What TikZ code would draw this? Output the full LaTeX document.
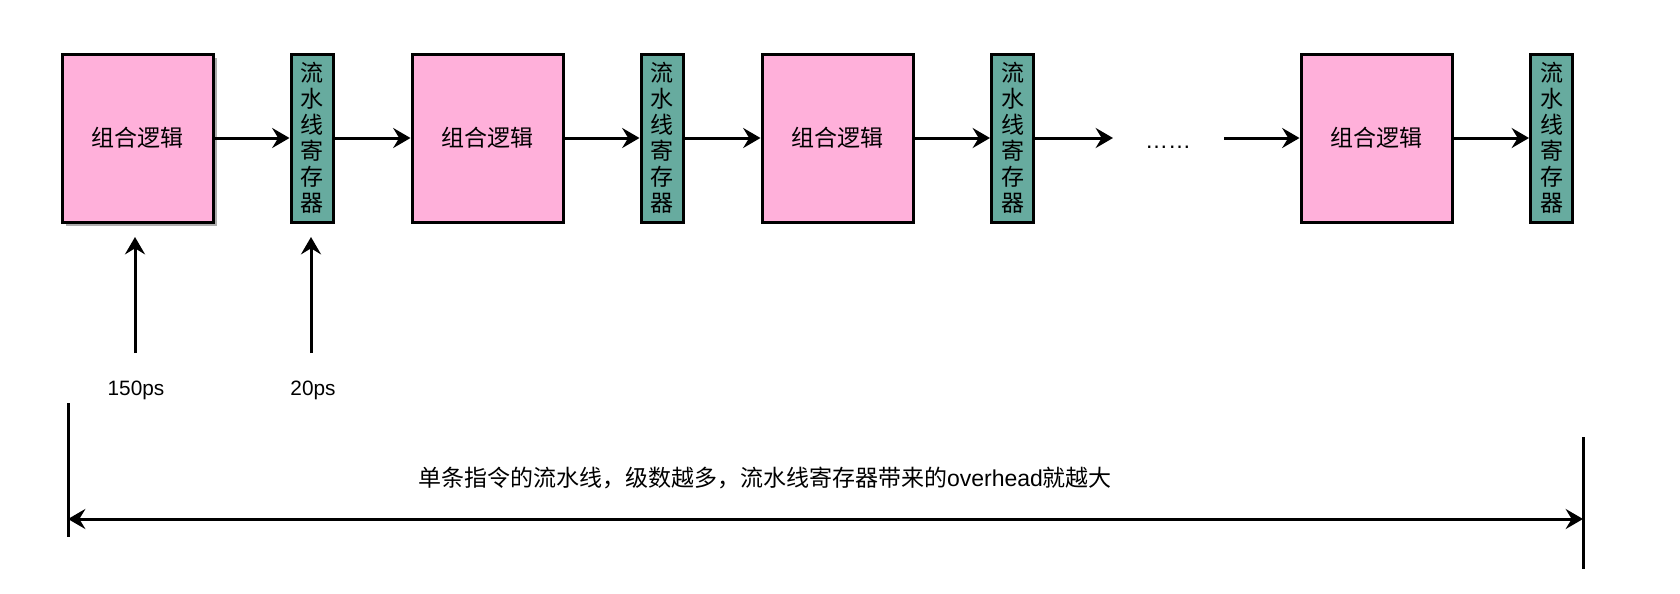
\documentclass[tikz,border=0pt]{standalone}
\usepackage{fontspec}
\setmainfont{Liberation Sans}
\newfontfamily\cjk{Noto Sans CJK SC}
\usetikzlibrary{arrows.meta}
\definecolor{logicpink}{HTML}{FFB0DA}
\definecolor{regteal}{HTML}{67AB9F}
\begin{document}
\begin{tikzpicture}[x=0.75pt,y=-0.75pt,
  logic/.style={draw=black,line width=2.25pt,fill=logicpink,minimum width=113.25pt,minimum height=126pt,inner sep=0pt,font=\cjk\fontsize{17.25}{20}\selectfont},
  reg/.style={draw=black,line width=2.25pt,fill=regteal,minimum width=31.5pt,minimum height=126pt,inner sep=0pt,align=center,font=\cjk\fontsize{17.25}{19.5}\selectfont},
  conn/.style={line width=2.25pt,-{Stealth[length=13pt,width=15pt,inset=4.5pt]}},
  dconn/.style={line width=2.25pt,{Stealth[length=13pt,width=15pt,inset=4.5pt]}-{Stealth[length=13pt,width=15pt,inset=4.5pt]}},
  bar/.style={line width=2.25pt},
  shade/.style={fill=black!32},
  lbl/.style={font=\fontsize{15.6}{18}\selectfont,inner sep=0pt},
  note/.style={font=\cjk\fontsize{17.25}{20}\selectfont,inner sep=0pt}]
\useasboundingbox[fill=white] (0,0) rectangle (1680,593);
% shadow of the first block
\fill[shade] (66,58) rectangle (217,226);
% logic blocks and registers
\node[logic] (b1) at (137.5,138) {组合逻辑};
\node[reg] (r1) at (312,138) {流\\水\\线\\寄\\存\\器};
\node[logic] (b2) at (487.5,138) {组合逻辑};
\node[reg] (r2) at (662,138) {流\\水\\线\\寄\\存\\器};
\node[logic] (b3) at (837.5,138) {组合逻辑};
\node[reg] (r3) at (1012.5,138) {流\\水\\线\\寄\\存\\器};
\node[font=\fontsize{17.25}{20}\selectfont,inner sep=0pt,anchor=base] (dots) at (1168,148) {……};
\node[logic] (b4) at (1376.5,138) {组合逻辑};
\node[reg] (r4) at (1551.5,138) {流\\水\\线\\寄\\存\\器};
\coordinate (r3out) at (1113,138);
\coordinate (b4in) at (1224,138);
% connectors
\draw[conn] (b1) -- (r1);
\draw[conn] (r1) -- (b2);
\draw[conn] (b2) -- (r2);
\draw[conn] (r2) -- (b3);
\draw[conn] (b3) -- (r3);
\draw[conn] (r3) -- (r3out);
\draw[conn] (b4in) -- (b4);
\draw[conn] (b4) -- (r4);
% delay annotations
\coordinate (a1s) at (135,353);
\coordinate (a1e) at (135,237);
\coordinate (a2s) at (311,353);
\coordinate (a2e) at (311,237);
\draw[conn] (a1s) -- (a1e);
\draw[conn] (a2s) -- (a2e);
\node[lbl] (l1) at (136,390) {150ps};
\node[lbl] (l2) at (313,390) {20ps};
% span
\coordinate (lt) at (68,403);
\coordinate (lb) at (68,537);
\coordinate (rt) at (1583,437);
\coordinate (rb) at (1583,569);
\coordinate (sl) at (68,519);
\coordinate (sr) at (1583,519);
\draw[bar] (lt) -- (lb);
\draw[bar] (rt) -- (rb);
\draw[dconn] (sl) -- (sr);
\node[note] (txt) at (765,478) {单条指令的流水线，级数越多，流水线寄存器带来的{\fontspec{Liberation Sans}overhead}就越大};
\end{tikzpicture}
\end{document}
